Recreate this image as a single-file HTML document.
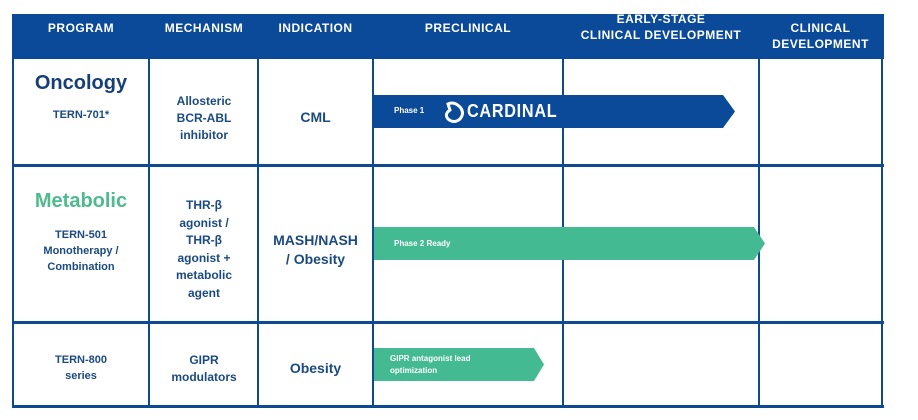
<!DOCTYPE html>
<html><head><meta charset="utf-8"><style>
body{margin:0;width:918px;height:420px;background:#fff;position:relative;overflow:hidden;font-family:"Liberation Sans",sans-serif;}
.a{position:absolute;}
.h{background:#0b4a98;}
.v{position:absolute;width:2px;background:#0d4a8f;top:58px;height:350px;}
.r{position:absolute;height:3px;background:#0d4a8f;left:12px;width:872px;}
.hd{position:absolute;color:#fff;font-weight:bold;font-size:12px;text-align:center;letter-spacing:0.5px;line-height:16px;}
.t{position:absolute;text-align:center;color:#1b4a82;font-weight:bold;}
</style></head><body>
<div class="a h" style="left:12px;top:14px;width:872px;height:45px"></div>
<div class="hd" style="left:13px;width:136px;top:20px">PROGRAM</div>
<div class="hd" style="left:149px;width:110px;top:20px">MECHANISM</div>
<div class="hd" style="left:258px;width:115px;top:20px">INDICATION</div>
<div class="hd" style="left:373px;width:190px;top:20px">PRECLINICAL</div>
<div class="hd" style="left:563px;width:196px;top:11px;overflow:hidden;height:40px"><div style="margin-top:0">EARLY-STAGE<br>CLINICAL DEVELOPMENT</div></div>
<div class="hd" style="left:759px;width:123px;top:20px">CLINICAL<br>DEVELOPMENT</div>
<div class="a" style="left:563px;top:0;width:196px;height:14px;background:#fff"></div>
<div class="v" style="left:12px"></div>
<div class="v" style="left:148px"></div>
<div class="v" style="left:257px"></div>
<div class="v" style="left:372px"></div>
<div class="v" style="left:562px"></div>
<div class="v" style="left:758px"></div>
<div class="v" style="left:881px"></div>
<div class="r" style="top:164px"></div>
<div class="r" style="top:321px"></div>
<div class="r" style="top:405px"></div>

<div class="t" style="left:13px;width:136px;top:72px;font-size:20px;color:#163f78">Oncology</div>
<div class="t" style="left:13px;width:136px;top:109px;font-size:11px">TERN-701*</div>
<div class="t" style="left:149px;width:110px;top:93px;font-size:12px;line-height:17px">Allosteric<br>BCR-ABL<br>inhibitor</div>
<div class="t" style="left:258px;width:115px;top:109px;font-size:14px">CML</div>

<div class="t" style="left:13px;width:136px;top:190px;font-size:20px;color:#4dbb8e">Metabolic</div>
<div class="t" style="left:13px;width:136px;top:227px;font-size:11px;line-height:16px">TERN-501<br>Monotherapy /<br>Combination</div>
<div class="t" style="left:149px;width:110px;top:197px;font-size:12px;line-height:17.5px">THR-β<br>agonist /<br>THR-β<br>agonist +<br>metabolic<br>agent</div>
<div class="t" style="left:258px;width:115px;top:231px;font-size:14px;line-height:19px">MASH/NASH<br>/ Obesity</div>

<div class="t" style="left:13px;width:136px;top:352px;font-size:11px;line-height:16px">TERN-800<br>series</div>
<div class="t" style="left:149px;width:110px;top:352px;font-size:12px;line-height:17px">GIPR<br>modulators</div>
<div class="t" style="left:258px;width:115px;top:360px;font-size:14px">Obesity</div>

<svg class="a" style="left:0;top:0" width="918" height="420">
<polygon points="374,95 723,95 735,111.5 723,128 374,128" fill="#0b4a98"/>
<polygon points="374,227 754,227 765,243.5 754,260 374,260" fill="#43ba91"/>
<polygon points="374,348 534,348 544,364.5 534,381 374,381" fill="#43ba91"/>
<path d="M448,104 q6,-3 12,3 q5,6 0,12 q-6,5 -12,0 q-4,-5 2,-9 z" fill="none" stroke="#fff" stroke-width="3"/>
</svg>
<div class="a" style="left:394px;top:106px;color:#fff;font-size:8px;font-weight:bold">Phase 1</div>
<div class="a" style="left:467px;top:101px;color:#fff;font-size:18px;font-weight:bold;letter-spacing:0.8px;transform:scaleX(0.9);transform-origin:left">CARDINAL</div>
<div class="a" style="left:394px;top:239px;color:#fff;font-size:8px;font-weight:bold">Phase 2 Ready</div>
<div class="a" style="left:390px;top:353px;color:#fff;font-size:8px;font-weight:bold;line-height:12px">GIPR antagonist lead<br>optimization</div>
</body></html>
